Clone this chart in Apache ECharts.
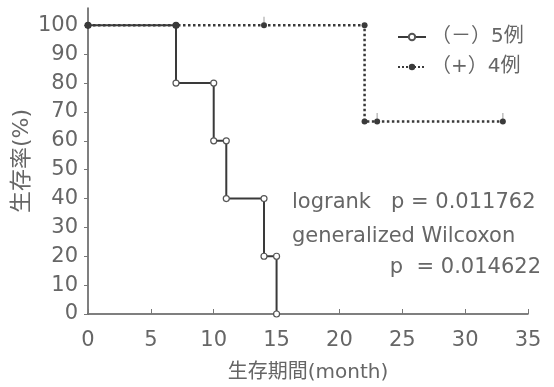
<!DOCTYPE html>
<html>
<head>
<meta charset="utf-8">
<script src="https://cdn.jsdelivr.net/npm/echarts@6/dist/echarts.min.js"></script>
<style>
  html, body { margin: 0; padding: 0; background: #fff; }
  #chart { width: 554px; height: 387px; }
</style>
</head>
<body>
<div id="chart"></div>
<script>
// survival curves (month, %)
const negName = '（－）5例';
const negMonths = [0, 7, 7, 10, 10, 11, 11, 14, 14, 15, 15];
const negSurv = [100, 100, 80, 80, 60, 60, 40, 40, 20, 20, 0];

const posName = '（+）4例';
const posMonths = [0, 14, 22, 22, 23, 33];
const posSurv = [100, 100, 100, 66.7, 66.7, 66.7];

// censored marks
const censorMonths = [14, 23, 33];
const censorSurv = [100, 66.7, 66.7];

const yTicks = [0, 10, 20, 30, 40, 50, 60, 70, 80, 90, 100];

const textColor = '#666';
const lineColor = '#3a3a3a';
const font = '"DejaVu Sans", "Noto Sans CJK JP", sans-serif';

const chart = echarts.init(document.getElementById('chart'));

const negData = negMonths.map((m, i) => {
  const item = { value: [m, negSurv[i]] };
  if (negSurv[i] === 100) item.itemStyle = { color: lineColor, borderColor: lineColor };
  return item;
});
const posData = posMonths.map((m, i) => [m, posSurv[i]]);
const censorData = censorMonths.map((m, i) => [m, censorSurv[i]]);

const option = {
  animation: false,
  textStyle: { fontFamily: font },
  grid: { left: 88, right: 26, top: 8, bottom: 73, outerBoundsMode: 'none', containLabel: false },
  legend: {
    orient: 'vertical',
    left: 392,
    top: 22,
    itemWidth: 28,
    itemHeight: 8,
    itemGap: 10,
    textStyle: { fontSize: 20, color: textColor, fontFamily: font },
    data: [negName, posName]
  },
  xAxis: {
    type: 'value',
    min: 0, max: 35, interval: 5,
    name: '生存期間(month)',
    nameLocation: 'middle',
    nameGap: 49,
    nameMoveOverlap: false,
    nameTextStyle: { fontSize: 20, color: textColor },
    axisLine: { show: true, lineStyle: { color: '#555', width: 1.5 } },
    axisTick: { show: true, inside: true, length: 5, lineStyle: { color: '#777' } },
    axisLabel: { fontSize: 21, color: textColor, margin: 16 },
    splitLine: { show: false }
  },
  yAxis: {
    type: 'value',
    min: 0, max: 106,
    name: '生存率(%)',
    nameLocation: 'middle',
    nameGap: 55,
    nameMoveOverlap: false,
    nameRotate: 90,
    nameTextStyle: { fontSize: 22, color: textColor },
    axisLine: { show: true, lineStyle: { color: '#555', width: 1.5 } },
    axisTick: { show: true, length: 4, customValues: yTicks, lineStyle: { color: '#777' } },
    axisLabel: { fontSize: 21, color: textColor, margin: 10, customValues: yTicks },
    splitLine: { show: false }
  },
  graphic: [
    { type: 'text', left: 292, top: 192, style: { text: 'logrank   p = 0.011762', fontSize: 21, fill: textColor, fontFamily: font } },
    { type: 'text', left: 292, top: 226, style: { text: 'generalized Wilcoxon', fontSize: 21, fill: textColor, fontFamily: font } },
    { type: 'text', right: 13, top: 257, style: { text: 'p  = 0.014622', fontSize: 21, fill: textColor, fontFamily: font } }
  ],
  series: [
    {
      name: posName,
      type: 'line',
      data: posData,
      z: 2,
      symbol: 'circle',
      symbolSize: 6,
      showAllSymbol: true,
      lineStyle: { color: lineColor, width: 2.5, type: 'dotted' },
      itemStyle: { color: lineColor }
    },
    {
      name: negName,
      type: 'line',
      data: negData,
      z: 3,
      symbol: 'circle',
      symbolSize: 6,
      showAllSymbol: true,
      lineStyle: { color: lineColor, width: 2 },
      itemStyle: { color: '#fff', borderColor: '#555', borderWidth: 1.2 }
    },
    {
      type: 'scatter',
      data: censorData,
      z: 1,
      symbol: 'rect',
      symbolSize: [1.2, 7],
      symbolOffset: [0, -5],
      itemStyle: { color: '#999' },
      silent: true
    }
  ]
};

chart.setOption(option);
</script>
</body>
</html>
